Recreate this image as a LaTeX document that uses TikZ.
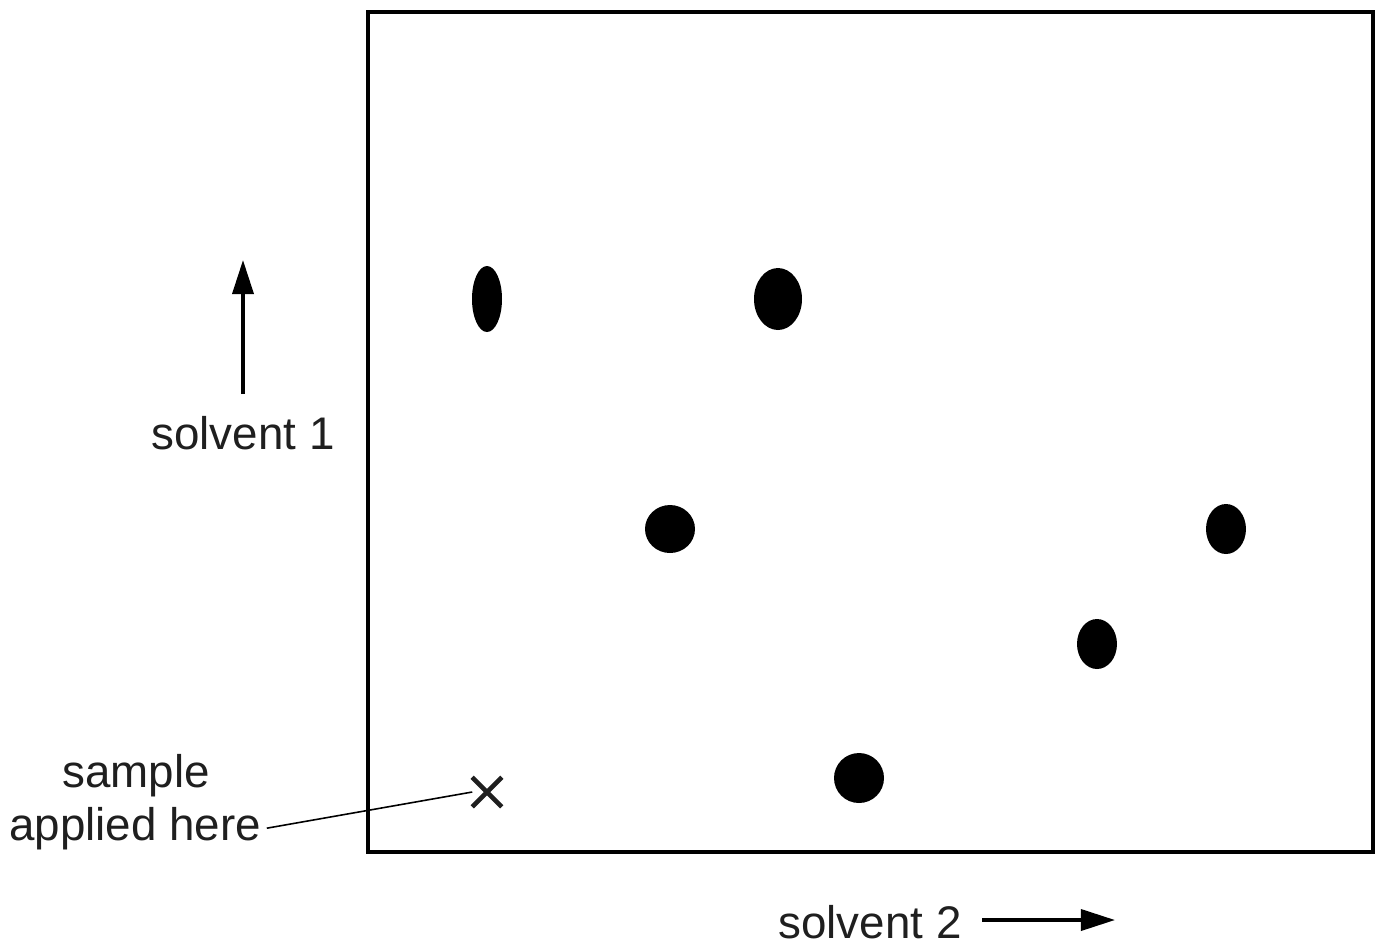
\documentclass[tikz,border=0pt]{standalone}
\usepackage{fontspec}
\setmainfont{Liberation Sans}
\usetikzlibrary{arrows.meta,shapes.misc,positioning}

\begin{document}
\begin{tikzpicture}[x=0.01cm,y=-0.01cm,
        lbl/.style={font=\fontsize{13}{15}\selectfont,text=black!88,inner sep=1.5pt},
        runarrow/.style={-{Triangle[length=3.4mm,width=2.1mm]},line width=1pt}]
        \useasboundingbox (0,0) rectangle (1384,947);
        % plate
        \draw[line width=1.1pt] (368,12) rectangle (1373,852);
        % spots
        \fill (487,299)  ellipse [x radius=15,y radius=33]
              (778,299)  ellipse [x radius=24,y radius=31]
              (670,529)  ellipse [x radius=25,y radius=24]
              (1226,529) ellipse [x radius=20,y radius=25]
              (1097,644) ellipse [x radius=20,y radius=25]
              (859,778)  ellipse [x radius=25,y radius=25];
        % origin
        \node (origin) [cross out,draw=black!88,line width=1.3pt,minimum size=0.25cm,inner sep=0pt] at (487,792) {};
        \node (sample) [lbl,anchor=base] at (136,787) {sample};
        \node (applied) [lbl,anchor=base] at (135,840) {applied here};
        \draw[line width=0.45pt] (applied.east) -- (origin.west);
        % solvent directions
        \coordinate (upfoot) at (243,394);
        \coordinate (uptip)  at (243,260);
        \draw[runarrow] (upfoot) -- (uptip);
        \node (solvA) [lbl,anchor=base] at (243,449) {solvent 1};
        \node (solvB) [lbl,anchor=base] at (870,938) {solvent 2};
        \coordinate (rightfoot) at (982,920);
        \coordinate (righttip)  at (1115,920);
        \draw[runarrow] (rightfoot) -- (righttip);
\end{tikzpicture}
\end{document}
